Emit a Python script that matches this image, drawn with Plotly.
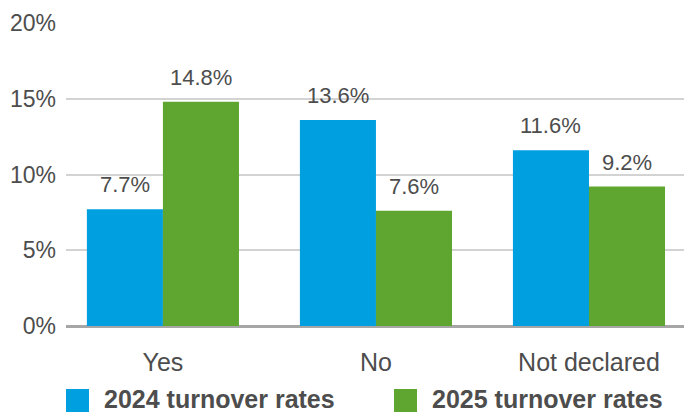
import plotly.graph_objects as go

# Turnover rates by declaration status
categories = ["Yes", "No", "Not declared"]
rates_2024 = [7.7, 13.6, 11.6]
rates_2025 = [14.8, 7.6, 9.2]
series_names = ["2024 turnover rates", "2025 turnover rates"]
y_ticks = [0, 5, 10, 15, 20]
y_tick_labels = ["0%", "5%", "10%", "15%", "20%"]

BLUE = "#009FE0"
GREEN = "#5FA630"
TEXT = "#4d4d4d"
FONT = "Liberation Sans"

W, H = 684, 412
ML, MR, MT, MB = 66, 0, 23, 86
PW, PH = W - ML - MR, H - MT - MB


def px_x(px):
    return (px - ML) / PW


def px_y(py):
    return (H - MB - py) / PH


fig = go.Figure()
for name, vals, col in [(series_names[0], rates_2024, BLUE),
                        (series_names[1], rates_2025, GREEN)]:
    fig.add_trace(go.Bar(
        name=name, x=categories, y=vals, marker_color=col,
        marker_line_width=0, showlegend=False,
    ))

# value labels above each bar
offsets = [-0.179, 0.179]
for k, vals in enumerate([rates_2024, rates_2025]):
    for i, v in enumerate(vals):
        fig.add_annotation(
            x=i + offsets[k], y=v, xref="x", yref="y",
            text=f"{v:.1f}%", showarrow=False,
            yanchor="bottom", yshift=10,
            font=dict(family=FONT, size=22, color=TEXT),
        )

# legend drawn as squares with bold labels under the axis
legend_items = [(series_names[0], BLUE, 66), (series_names[1], GREEN, 394)]
for name, col, px in legend_items:
    fig.add_shape(type="rect", xref="paper", yref="paper",
                  x0=px_x(px), x1=px_x(px + 23),
                  y0=px_y(412), y1=px_y(389),
                  fillcolor=col, line_width=0)
    fig.add_annotation(
        x=px_x(px + 36), y=px_y(399),
        xref="paper", yref="paper", xanchor="left", yanchor="middle",
        text=f"<b>{name}</b>", showarrow=False,
        font=dict(family=FONT, size=25, color=TEXT),
    )

fig.update_layout(
    width=W, height=H,
    margin=dict(l=ML, r=MR, t=MT, b=MB),
    paper_bgcolor="white", plot_bgcolor="white",
    barmode="group", bargap=0.286, bargroupgap=0,
    font=dict(family=FONT, color=TEXT),
    xaxis=dict(
        range=[-0.455, 2.446], showgrid=False, showline=False,
        ticks="", tickfont=dict(family=FONT, size=25, color=TEXT),
        ticklabelstandoff=19,
    ),
    yaxis=dict(
        range=[0, 20], tickvals=y_ticks, ticktext=y_tick_labels,
        showgrid=True, gridcolor="#d3d3d3", gridwidth=1.5,
        zeroline=True, zerolinecolor="#a6a6a6", zerolinewidth=3,
        showline=False, ticks="",
        tickfont=dict(family=FONT, size=23, color=TEXT),
        ticklabelstandoff=9,
    ),
)

fig.write_html("out.html")
